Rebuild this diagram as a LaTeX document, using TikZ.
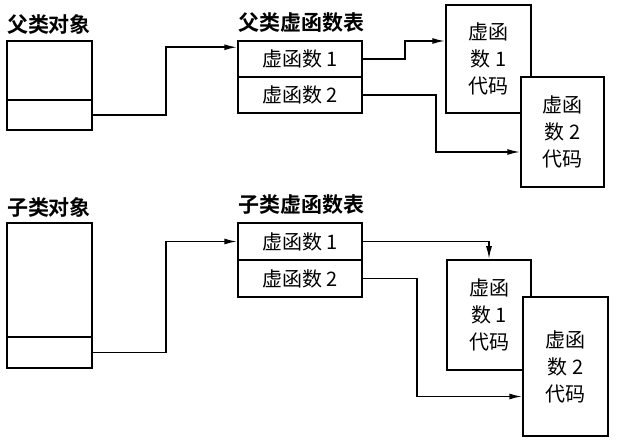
\documentclass[tikz,border=0pt]{standalone}
\usepackage{fontspec}
\newfontfamily\cjk{Noto Sans CJK SC}
\newfontfamily\cjkbold{Noto Sans CJK SC Bold}
\usetikzlibrary{arrows.meta}
\newcommand{\vfn}[1]{{\cjk 虚函数}\ #1}
\tikzset{
  vlink/.style={draw=black,line width=1.7pt,-{Latex[length=13pt,width=6pt]}}
}
\begin{document}
\begin{tikzpicture}[x=1pt,y=-1pt,
  every node/.style={font=\fontsize{20}{27}\selectfont\cjk},
  head/.style={font=\fontsize{21}{27}\selectfont\cjkbold},
  cell/.style={draw=black,line width=1.5pt,fill=white,inner sep=0pt,minimum width=85pt},
  row/.style={draw=black,line width=1.5pt,fill=white,inner sep=0pt,minimum width=124pt,minimum height=36pt},
  code/.style={draw=black,line width=1.5pt,fill=white,inner sep=0pt,align=center}]
\useasboundingbox (0,0) rectangle (624,443);

\begin{scope}
\node[head] (labA) at (49,25) {父类对象};
\node[cell,minimum height=59pt] (objA) at (49.5,70.5) {};
\node[cell,minimum height=30pt] (ptrA) at (49.5,115) {};
\node[head] (labTA) at (301,23) {父类虚函数表};
\node[row] (rowA1) at (300,59) {\vfn{1}};
\node[row] (rowA2) at (300,95) {\vfn{2}};
\node[code,minimum width=85pt,minimum height=108pt] (codeA1) at (488.5,59) {虚函\\数 1\\代码};
\node[code,minimum width=83pt,minimum height=110pt] (codeA2) at (562.5,132) {虚函\\数 2\\代码};
\draw[vlink] (ptrA.east) -- ++(73,0) |- ([yshift=-7pt]rowA1.north west);
\draw[vlink] (rowA1.east) -- ++(42,0) |- ([yshift=18pt]codeA1.west);
\draw[vlink] (rowA2.east) -- ++(73,0) |- ([yshift=-20pt]codeA2.west);
\end{scope}

\begin{scope}
\node[head] (labB) at (49,207) {子类对象};
\node[cell,minimum height=114pt] (objB) at (49.5,280) {};
\node[cell,minimum height=31pt] (ptrB) at (49.5,352.5) {};
\node[head] (labTB) at (301,205) {子类虚函数表};
\node[row,minimum height=37pt] (rowB1) at (300,241.5) {\vfn{1}};
\node[row,minimum height=37pt] (rowB2) at (300,278.5) {\vfn{2}};
\node[code,minimum width=84pt,minimum height=110pt] (codeB1) at (489,315) {虚函\\数 1\\代码};
\node[code,minimum width=85pt,minimum height=139pt] (codeB2) at (565.5,366.5) {虚函\\数 2\\代码};
\draw[vlink] (ptrB.east) -- ++(73,0) |- (rowB1.west);
\draw[vlink] (rowB1.east) -| (codeB1.north);
\draw[vlink] (rowB2.east) -- ++(54,0) |- ([yshift=-30pt]codeB2.west);
\end{scope}
\end{tikzpicture}
\end{document}
